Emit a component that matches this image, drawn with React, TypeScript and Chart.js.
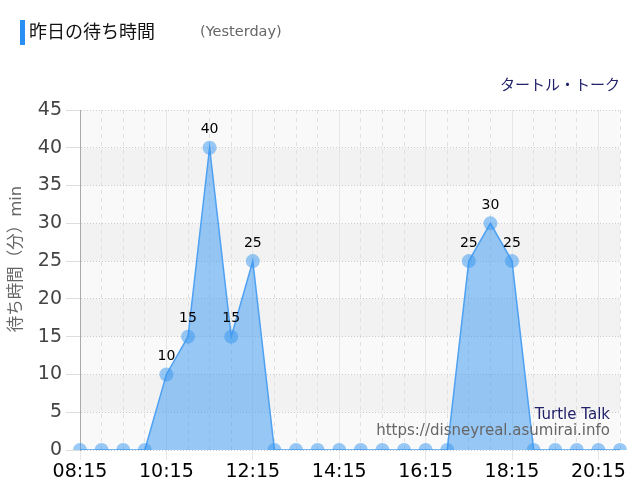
import React, { useEffect, useRef } from 'react';
import { Chart, registerables } from 'chart.js';

Chart.register(...registerables);

// 30-minute slots, 08:15 .. 20:45
const timeLabels = [
  '08:15', '08:45', '09:15', '09:45', '10:15', '10:45', '11:15', '11:45', '12:15', '12:45',
  '13:15', '13:45', '14:15', '14:45', '15:15', '15:45', '16:15', '16:45', '17:15', '17:45',
  '18:15', '18:45', '19:15', '19:45', '20:15', '20:45',
];
const waitMinutes = [
  0, 0, 0, 0, 10, 15, 40, 15, 25, 0,
  0, 0, 0, 0, 0, 0, 0, 0, 25, 30,
  25, 0, 0, 0, 0, 0,
];
const yTicks = [0, 5, 10, 15, 20, 25, 30, 35, 40, 45];

const FONT = '"DejaVu Sans", "Noto Sans CJK JP", sans-serif';

const bandsPlugin = {
  id: 'bands',
  beforeDraw(chart: any) {
    const { ctx, chartArea, scales } = chart;
    const y = scales.y;
    ctx.save();
    for (let i = 0; i < yTicks.length - 1; i++) {
      const top = y.getPixelForValue(yTicks[i + 1]);
      const bottom = y.getPixelForValue(yTicks[i]);
      ctx.fillStyle = i % 2 === 0 ? '#f9f9f9' : '#f2f2f2';
      ctx.fillRect(chartArea.left, top, chartArea.right - chartArea.left, bottom - top);
    }
    ctx.restore();
  },
};

const textPlugin = {
  id: 'texts',
  afterDraw(chart: any) {
    const { ctx } = chart;
    ctx.save();

    // point value labels
    const meta = chart.getDatasetMeta(0);
    ctx.font = `14px ${FONT}`;
    ctx.fillStyle = '#000';
    ctx.textAlign = 'center';
    ctx.textBaseline = 'middle';
    meta.data.forEach((pt: any, i: number) => {
      if (waitMinutes[i] > 0) ctx.fillText(String(waitMinutes[i]), pt.x, pt.y - 18);
    });

    // header
    ctx.fillStyle = '#2a8ff5';
    ctx.fillRect(20, 20, 5, 25);
    ctx.textAlign = 'left';
    ctx.fillStyle = '#111';
    ctx.font = `18px ${FONT}`;
    ctx.fillText('昨日の待ち時間', 29, 33);
    ctx.fillStyle = '#666';
    ctx.font = `14.5px ${FONT}`;
    ctx.fillText('(Yesterday)', 200, 32);

    ctx.textAlign = 'right';
    ctx.fillStyle = '#22226a';
    ctx.font = `15px ${FONT}`;
    ctx.fillText('タートル・トーク', 620, 86);
    ctx.fillText('Turtle Talk', 610, 415);
    ctx.fillStyle = '#666';
    ctx.fillText('https://disneyreal.asumirai.info', 610, 431);

    // y axis title
    ctx.translate(17, 259);
    ctx.rotate(-Math.PI / 2);
    ctx.textAlign = 'center';
    ctx.fillStyle = '#666';
    ctx.font = `16.5px ${FONT}`;
    ctx.fillText('待ち時間（分）min', 0, 0);

    ctx.restore();
  },
};

function WaitChart() {
  const canvasRef = useRef<HTMLCanvasElement>(null);

  useEffect(() => {
    if (!canvasRef.current) return;
    const chart = new Chart(canvasRef.current, {
      type: 'line',
      data: {
        labels: timeLabels,
        datasets: [{
          label: 'wait',
          data: waitMinutes,
          borderColor: '#4ea1f3',
          borderWidth: 1.5,
          backgroundColor: 'rgba(54,150,240,0.5)',
          fill: 'origin',
          tension: 0,
          pointRadius: 7,
          pointBorderWidth: 0,
          pointBackgroundColor: 'rgba(54,150,240,0.5)',
        }],
      },
      options: {
        responsive: true,
        maintainAspectRatio: false,
        animation: false,
        layout: { padding: { top: 110, right: 20, left: 0, bottom: 0 } },
        plugins: {
          legend: { display: false },
          tooltip: { enabled: false },
        },
        scales: {
          x: {
            afterFit: (s: any) => { s.height = 50; },
            grid: {
              color: (c: any) => (c.index % 4 === 0 ? '#e6e6e6' : '#e0e0e0'),
              tickColor: (c: any) => (c.index % 4 === 0 ? '#e6e6e6' : 'rgba(0,0,0,0)'),
              tickLength: 10,
            },
            border: {
              display: false,
              dash: (c: any) => (c.index % 4 === 0 ? [] : [4, 4]),
            },
            ticks: {
              autoSkip: false,
              maxRotation: 0,
              padding: 1,
              color: '#000',
              font: { family: FONT, size: 19 },
              callback: (_v: any, i: number) => (i % 4 === 0 ? timeLabels[i] : ''),
            },
          },
          y: {
            min: 0,
            max: 45,
            afterFit: (s: any) => { s.width = 80; },
            grid: {
              color: '#cccccc',
              tickColor: '#dddddd',
              tickLength: 14,
            },
            border: { display: true, color: '#aaaaaa', width: 1, dash: [1, 2] },
            ticks: {
              stepSize: 5,
              padding: 4,
              color: '#444',
              font: { family: FONT, size: 19 },
            },
          },
        },
      },
      plugins: [bandsPlugin, textPlugin],
    });
    return () => chart.destroy();
  }, []);

  return (
    <div style={{ position: 'fixed', left: 0, top: 0, width: 640, height: 500, background: '#fff' }}>
      <canvas ref={canvasRef} />
    </div>
  );
}

export default function App() {
  return <WaitChart />;
}
